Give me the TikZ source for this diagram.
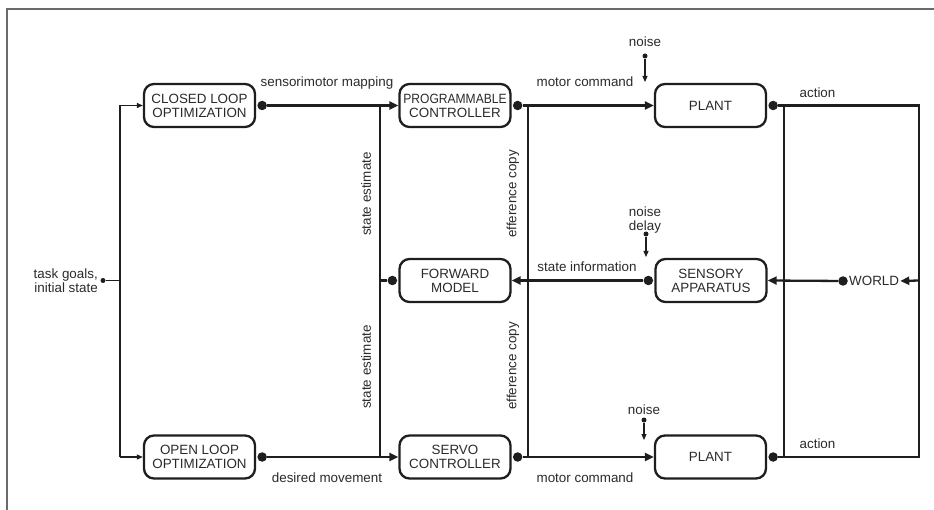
\documentclass[tikz,border=0pt]{standalone}
\usepackage{fontspec}
\setmainfont{Liberation Sans}
\usetikzlibrary{arrows.meta,calc}
\definecolor{ink}{HTML}{1E1E1E}
\definecolor{txt}{HTML}{2A2A2A}
\definecolor{framegray}{HTML}{6A6A6A}
\begin{document}
\begin{tikzpicture}[x=1pt,y=-1pt,
  blk/.style={draw=ink, line width=2.3pt, rounded corners=10pt,
    minimum width=111pt, minimum height=43pt, align=center, inner sep=0pt,
    text=txt, font=\fontsize{13.4}{14}\selectfont},
  lbl/.style={font=\fontsize{13.4}{14}\selectfont, inner sep=0pt, text=txt},
  wire/.style={line width=2.3pt, draw=ink},
  thinwire/.style={line width=1.1pt, draw=ink},
  bigdot/.style={circle, fill=ink, inner sep=0pt, minimum size=9.5pt},
  smalldot/.style={circle, fill=ink, inner sep=0pt, minimum size=5pt},
  tip/.style={-{Triangle[length=9pt,width=8pt]}},
  smalltip/.style={-{Triangle[length=6pt,width=5pt]}},
]
\useasboundingbox (0,0) rectangle (934,510);
% outer frame (top and left edges)
\draw[framegray, line width=2pt] (7,510) -- (7,9) -- (934,9);

% blocks
\node[blk] (clo) at (199.5,105.5) {CLOSED LOOP\\OPTIMIZATION};
\node[blk] (pc) at (455,105.5) {\scalebox{0.9}[1]{PROGRAMMABLE}\\CONTROLLER};
\node[blk] (plantA) at (710.5,105.5) {PLANT};
\node[blk] (fm) at (455,280.5) {FORWARD\\MODEL};
\node[blk] (sa) at (711,280.5) {SENSORY\\APPARATUS};
\node[blk] (olo) at (199.5,457) {OPEN LOOP\\OPTIMIZATION};
\node[blk] (servo) at (455,457) {SERVO\\CONTROLLER};
\node[blk] (plantB) at (710.5,457) {PLANT};

% output dots
\node[bigdot] (dclo) at ([xshift=6pt]clo.east) {};
\node[bigdot] (dpc) at ([xshift=6pt]pc.east) {};
\node[bigdot] (dpA) at ([xshift=6pt]plantA.east) {};
\node[bigdot] (dfm) at ([xshift=-6pt]fm.west) {};
\node[bigdot] (dsa) at ([xshift=-6pt]sa.west) {};
\node[bigdot] (dolo) at ([xshift=6pt]olo.east) {};
\node[bigdot] (dservo) at ([xshift=6pt]servo.east) {};
\node[bigdot] (dpB) at ([xshift=6pt]plantB.east) {};

% junction columns
\coordinate (jin) at (120,280.5);
\coordinate (jse) at (380,280.5);
\coordinate (jef) at (528,280.5);
\coordinate (jact) at (784,280.5);
\coordinate (jw) at (919,280.5);

% task goals input
\node[lbl, align=right, anchor=east] (task) at (98,280.5) {task goals,\\initial state};
\node[smalldot] (dtask) at (103,280.5) {};
\draw[thinwire] (dtask) -- (jin);
\draw[thinwire] (jin |- dclo) -- (jin |- dolo);
\draw[thinwire, smalltip] (jin |- dclo) -- (clo.west);
\draw[thinwire, smalltip] (jin |- dolo) -- (olo.west);

% optimisation to controllers
\draw[wire, tip] (dclo) -- (pc.west);
\draw[wire, tip] (dolo) -- (servo.west);
\node[lbl, anchor=base] (lsm) at (327,87) {sensorimotor mapping};
\node[lbl, anchor=base] (ldm) at (327,482) {desired movement};

% state estimate from the forward model
\draw[wire] (dfm) -- (jse);
\draw[wire] (jse |- dclo) -- (jse |- dolo);
\node[lbl, rotate=90] (lseA) at (366,194) {state estimate};
\node[lbl, rotate=90] (lseB) at (366,367) {state estimate};

% motor commands and efference copy
\draw[wire, tip] (dpc) -- (plantA.west);
\draw[wire, tip] (dservo) -- (plantB.west);
\draw[wire] (jef |- dpc) -- (jef |- dservo);
\node[lbl, anchor=base] (lmcA) at (585,87) {motor command};
\node[lbl, anchor=base] (lmcB) at (585,482.5) {motor command};
\node[lbl, rotate=90] (lecA) at (513,194) {efference copy};
\node[lbl, rotate=90] (lecB) at (513,366) {efference copy};

% actions on the world
\draw[wire] (dpA) -- (jw |- dpA) -- (jw |- dpB) -- (dpB);
\draw[wire] (jact |- dpA) -- (jact |- dpB);
\node[lbl, anchor=base] (lacA) at (817.5,98) {action};
\node[lbl, anchor=base] (lacB) at (817.5,448) {action};

% world and sensing
\node[lbl, anchor=west] (world) at (849,281) {WORLD};
\node[bigdot] (dw) at (843,281) {};
\draw[wire, tip] (jw) -- ([xshift=1pt]world.east);
\draw[wire, tip] (dw) -- (sa.east);
\draw[wire, tip] (dsa) -- (fm.east);
\node[lbl, anchor=base] (lsi) at (587,271.5) {state information};

% noise inputs
\node[lbl, anchor=base] (nA) at (645,47) {noise};
\node[smalldot] (dnA) at (645,56) {};
\draw[thinwire, smalltip] (dnA) -- (645,82);
\node[lbl, anchor=base, align=center] (nS) at (645,231) {noise\\delay};
\node[smalldot] (dnS) at (646,234) {};
\draw[thinwire, smalltip] (dnS) -- (646,257);
\node[lbl, anchor=base] (nB) at (644,414) {noise};
\node[smalldot] (dnB) at (644,420) {};
\draw[thinwire, smalltip] (dnB) -- (644,440);
\end{tikzpicture}
\end{document}
